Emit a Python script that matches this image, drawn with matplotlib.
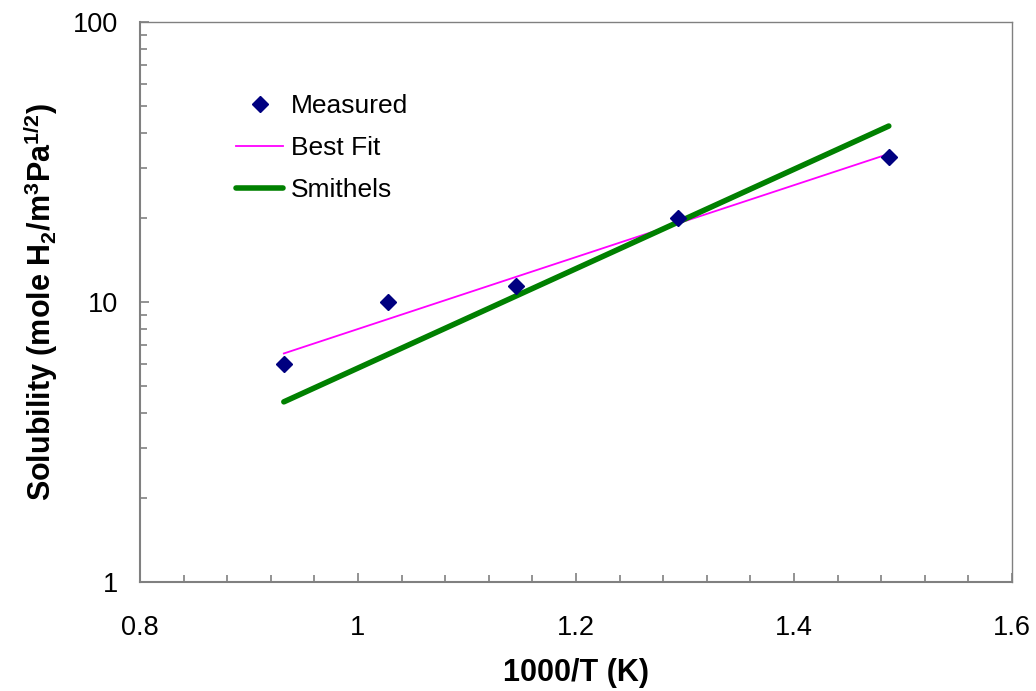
import matplotlib
matplotlib.use("Agg")
import matplotlib.pyplot as plt
from matplotlib.ticker import MultipleLocator, FuncFormatter, LogLocator

plt.rcParams['font.family'] = ['Liberation Sans', 'DejaVu Sans']
plt.rcParams['mathtext.fontset'] = 'custom'
plt.rcParams['mathtext.bf'] = 'Liberation Sans:bold'
plt.rcParams['mathtext.rm'] = 'Liberation Sans:bold'
plt.rcParams['mathtext.default'] = 'bf'

# measured solubility data
inv_temp = [0.932, 1.028, 1.145, 1.294, 1.487]
solubility = [6.0, 10.0, 11.4, 19.9, 33.0]

# fit lines (end points, straight on the log axis)
fit_x = [0.932, 1.487]
best_fit = [6.55, 33.8]
smithels = [4.4, 42.5]

GRAY = '#808080'

fig = plt.figure(figsize=(10.36, 6.91), dpi=100)
ax = fig.add_axes([0.1351, 0.1577, 0.8417, 0.8105])

ax.plot(inv_temp, solubility, linestyle='none', marker='D', markersize=8,
        color='#000080', label='Measured', zorder=4)
ax.plot(fit_x, best_fit, color='#ff00ff', linewidth=1.3, label='Best Fit')
ax.plot(fit_x, smithels, color='#008000', linewidth=4, label='Smithels',
        solid_capstyle='round')

ax.set_yscale('log')
ax.set_xlim(0.8, 1.6)
ax.set_ylim(1, 100)

ax.xaxis.set_major_locator(MultipleLocator(0.2))
ax.xaxis.set_minor_locator(MultipleLocator(0.04))
ax.xaxis.set_major_formatter(FuncFormatter(lambda v, p: f'{v:g}'))
ax.yaxis.set_major_locator(LogLocator(base=10))
ax.yaxis.set_minor_locator(LogLocator(base=10, subs=range(2, 10)))
ax.yaxis.set_major_formatter(FuncFormatter(lambda v, p: f'{v:g}'))

for side in ['left', 'bottom', 'right', 'top']:
    ax.spines[side].set_color(GRAY)
    ax.spines[side].set_linewidth(1.5)
ax.spines['right'].set_linewidth(1.0)
ax.spines['top'].set_linewidth(1.0)

ax.tick_params(which='both', direction='in', color=GRAY, width=1.2,
               labelsize=19.5, labelcolor='black')
ax.tick_params(which='major', length=6.5)
ax.tick_params(which='minor', length=5)
ax.tick_params(axis='y', pad=16)
ax.tick_params(axis='x', pad=24)

ax.set_xlabel('1000/T (K)', fontsize=22, fontweight='bold', labelpad=12)
ax.set_ylabel(r'Solubility (mole H$_2$/m$^3$Pa$^{1/2}$)', fontsize=22,
              fontweight='bold', labelpad=9)

ax.legend(loc='upper left', bbox_to_anchor=(0.0985, 0.89), frameon=False,
          fontsize=19, handlelength=1.75, handletextpad=0.3,
          labelspacing=0.68, borderaxespad=0)

fig.savefig('out.png', dpi=100)
